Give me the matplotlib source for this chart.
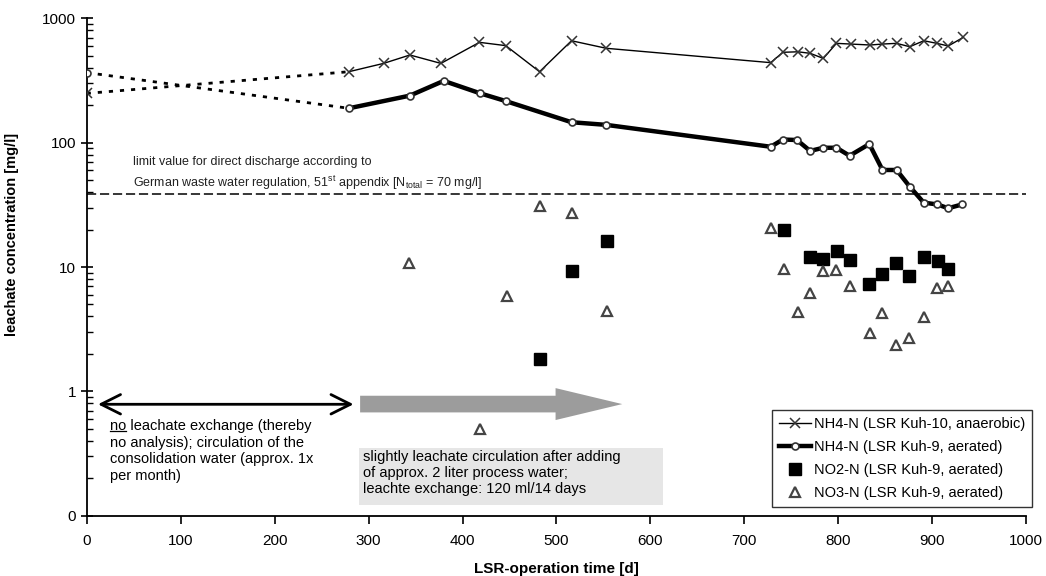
import matplotlib
matplotlib.use("Agg")
import matplotlib.pyplot as plt
from matplotlib.patches import Rectangle
from matplotlib.ticker import FixedLocator, LogLocator, NullFormatter

plt.rcParams['font.family'] = ['Liberation Sans', 'DejaVu Sans']
plt.rcParams['mathtext.fontset'] = 'custom'
plt.rcParams['mathtext.rm'] = 'Liberation Sans'
plt.rcParams['mathtext.it'] = 'Liberation Sans:italic'

# NH4-N, LSR Kuh-10 (anaerobic)
t_kuh10 = [0, 279, 316, 344, 377, 418, 446, 482, 516, 553, 728, 741, 757, 770, 784,
           798, 813, 834, 847, 862, 876, 891, 905, 917, 933]
nh4_kuh10 = [249, 372, 434, 507, 434, 641, 603, 372, 660, 574, 440, 533, 538, 523, 476,
             629, 621, 610, 621, 629, 591, 660, 629, 599, 703]

# NH4-N, LSR Kuh-9 (aerated)
t_kuh9 = [0, 279, 344, 380, 419, 446, 516, 553, 728, 741, 756, 770, 784, 798, 812,
          833, 847, 862, 876, 891, 905, 917, 932]
nh4_kuh9 = [366, 189, 239, 314, 249, 216, 146, 139, 92.7, 106, 105, 85.8, 91, 91, 78.5,
            97.5, 60.3, 60.3, 44.3, 32.9, 31.9, 29.7, 31.9]

# NO2-N, LSR Kuh-9 (aerated)
t_no2 = [482, 517, 554, 742, 770, 784, 799, 812, 833, 847, 861, 875, 891, 906, 917]
no2 = [1.82, 9.3, 16.2, 19.9, 12.1, 11.7, 13.5, 11.4, 7.26, 8.73, 10.7, 8.47, 12.1, 11.2, 9.57]

# NO3-N, LSR Kuh-9 (aerated)
t_no3 = [343, 419, 447, 482, 517, 554, 728, 742, 757, 770, 784, 798, 812, 834, 847,
         861, 875, 891, 905, 917]
no3 = [10.8, 0.495, 5.85, 31.1, 27.0, 4.43, 20.5, 9.63, 4.33, 6.21, 9.34, 9.4, 7.03, 2.93, 4.25,
       2.36, 2.67, 3.98, 6.82, 7.03]

limit_value = 38.5
y_ticks = [0.1, 1, 10, 100, 1000]
y_ticklabels = ['0', '1', '10', '100', '1000']
x_ticks = [0, 100, 200, 300, 400, 500, 600, 700, 800, 900, 1000]

fig = plt.figure(figsize=(10.46, 5.76), dpi=100)
ax = fig.add_axes([0.0829, 0.1047, 0.8982, 0.8635])
ax.set_yscale('log')
ax.set_xlim(0, 1000)
ax.set_ylim(0.1, 1000)

# limit value line
ax.axhline(limit_value, color='black', lw=1.1, ls=(0, (6, 2.5)), zorder=2)

# no measurements between start and day 280 -> dotted connection
ax.plot(t_kuh10[:2], nh4_kuh10[:2], color='black', lw=2, ls=(0, (1.5, 2.5)), zorder=3)
ax.plot(t_kuh9[:2], nh4_kuh9[:2], color='black', lw=2, ls=(0, (1.5, 2.5)), zorder=3)
ax.plot(t_kuh10[:1], nh4_kuh10[:1], 'x', color='#333333', ms=7, mew=1.1, zorder=4)
ax.plot(t_kuh9[:1], nh4_kuh9[:1], 'o', mfc='white', mec='#333333', ms=5, mew=1.2, zorder=4)

ax.plot(t_kuh10[1:], nh4_kuh10[1:], '-', color='black', lw=1.0, marker='x',
        mec='#333333', ms=7, mew=1.1, zorder=4)
ax.plot(t_kuh9[1:], nh4_kuh9[1:], '-', color='black', lw=3.2, marker='o',
        mfc='white', mec='#333333', ms=5, mew=1.2, zorder=4)
ax.plot(t_no2, no2, 's', color='black', ms=9, zorder=4)
ax.plot(t_no3, no3, '^', mfc='white', mec='#444444', ms=7, mew=1.6, zorder=4)

# legend with dedicated handles
h1, = ax.plot([], [], '-', color='black', lw=1.0, marker='x', mec='#333333', ms=7, mew=1.1)
h2, = ax.plot([], [], '-', color='black', lw=3.2, marker='o', mfc='white', mec='#333333',
              ms=5, mew=1.2)
h3, = ax.plot([], [], 's', color='black', ms=9)
h4, = ax.plot([], [], '^', mfc='white', mec='#444444', ms=7, mew=1.6)
leg = ax.legend([h1, h2, h3, h4],
                ['NH4-N (LSR Kuh-10, anaerobic)', 'NH4-N (LSR Kuh-9, aerated)',
                 'NO2-N (LSR Kuh-9, aerated)', 'NO3-N (LSR Kuh-9, aerated)'],
                loc='lower right', bbox_to_anchor=(1.006, 0.018), borderaxespad=0,
                fontsize=10.5, frameon=True, fancybox=False, handlelength=2.2,
                handletextpad=0.2, labelspacing=0.62, borderpad=0.45)
leg.get_frame().set_edgecolor('black')
leg.get_frame().set_linewidth(1.0)
leg.set_zorder(5)

# annotations
ax.text(49, 70, 'limit value for direct discharge according to', fontsize=9,
        va='center', ha='left', color='#222222')
ax.text(49, 47.5, r'German waste water regulation, 51$^{\mathrm{st}}$ appendix '
        r'[N$_{\mathrm{total}}$ = 70 mg/l]', fontsize=9, va='center', ha='left',
        color='#222222')

ax.annotate('', xy=(12, 0.787), xytext=(284, 0.787),
            arrowprops=dict(arrowstyle='<->,head_length=0.7,head_width=0.35',
                            mutation_scale=20, lw=2, color='black',
                            shrinkA=0, shrinkB=0))
ax.annotate('', xy=(570, 0.79), xytext=(291, 0.79),
            arrowprops=dict(arrowstyle='simple,head_length=4.8,head_width=2.3,tail_width=1.2',
                            mutation_scale=10, color='#9c9c9c', lw=0,
                            shrinkA=0, shrinkB=0))

txt = ax.text(25, 0.6, 'no leachate exchange (thereby\nno analysis); circulation of the\n'
              'consolidation water (approx. 1x\nper month)', fontsize=10.5,
              va='top', ha='left', linespacing=1.25)

ax.add_patch(Rectangle((290, 0.122), 323.5, 0.230, facecolor='#e6e6e6',
                       edgecolor='none', zorder=1))
ax.text(294, 0.34, 'slightly leachate circulation after adding\nof approx. 2 liter process water;\n'
        'leachte exchange: 120 ml/14 days', fontsize=10.5, va='top', ha='left',
        linespacing=1.2, zorder=2)

# underline the first word of the left note (measure "no", then drop the helper)
fig.canvas.draw()
renderer = fig.canvas.get_renderer()
word = ax.text(25, 0.6, 'no', fontsize=10.5, va='top', ha='left')
bb = word.get_window_extent(renderer)
word.remove()
inv = ax.transData.inverted()
x0, y0 = inv.transform((bb.x0, bb.y0 + 2))
x1, _ = inv.transform((bb.x1, bb.y0 + 2))
ax.plot([x0, x1], [y0, y0], color='black', lw=0.9, zorder=3)

# axes styling
for side in ('top', 'right'):
    ax.spines[side].set_visible(False)
ax.spines['left'].set_linewidth(1.3)
ax.spines['bottom'].set_linewidth(1.3)

ax.yaxis.set_major_locator(FixedLocator(y_ticks))
ax.set_yticklabels(y_ticklabels)
ax.yaxis.set_minor_locator(LogLocator(base=10, subs=range(2, 10)))
ax.yaxis.set_minor_formatter(NullFormatter())
ax.set_xticks(x_ticks)
ax.tick_params(axis='y', which='major', direction='inout', length=9, width=1.2,
               labelsize=11, pad=3)
ax.tick_params(axis='y', which='minor', direction='in', length=4, width=1.0)
ax.tick_params(axis='x', which='major', direction='out', length=6, width=1.2,
               labelsize=11, pad=7)

ax.set_xlabel('LSR-operation time [d]', fontsize=11, fontweight='bold', labelpad=10)
ax.set_ylabel('leachate concentration [mg/l]', fontsize=10.5, fontweight='bold')
ax.yaxis.set_label_coords(-0.072, 0.565)

fig.savefig('out.png', dpi=100)
